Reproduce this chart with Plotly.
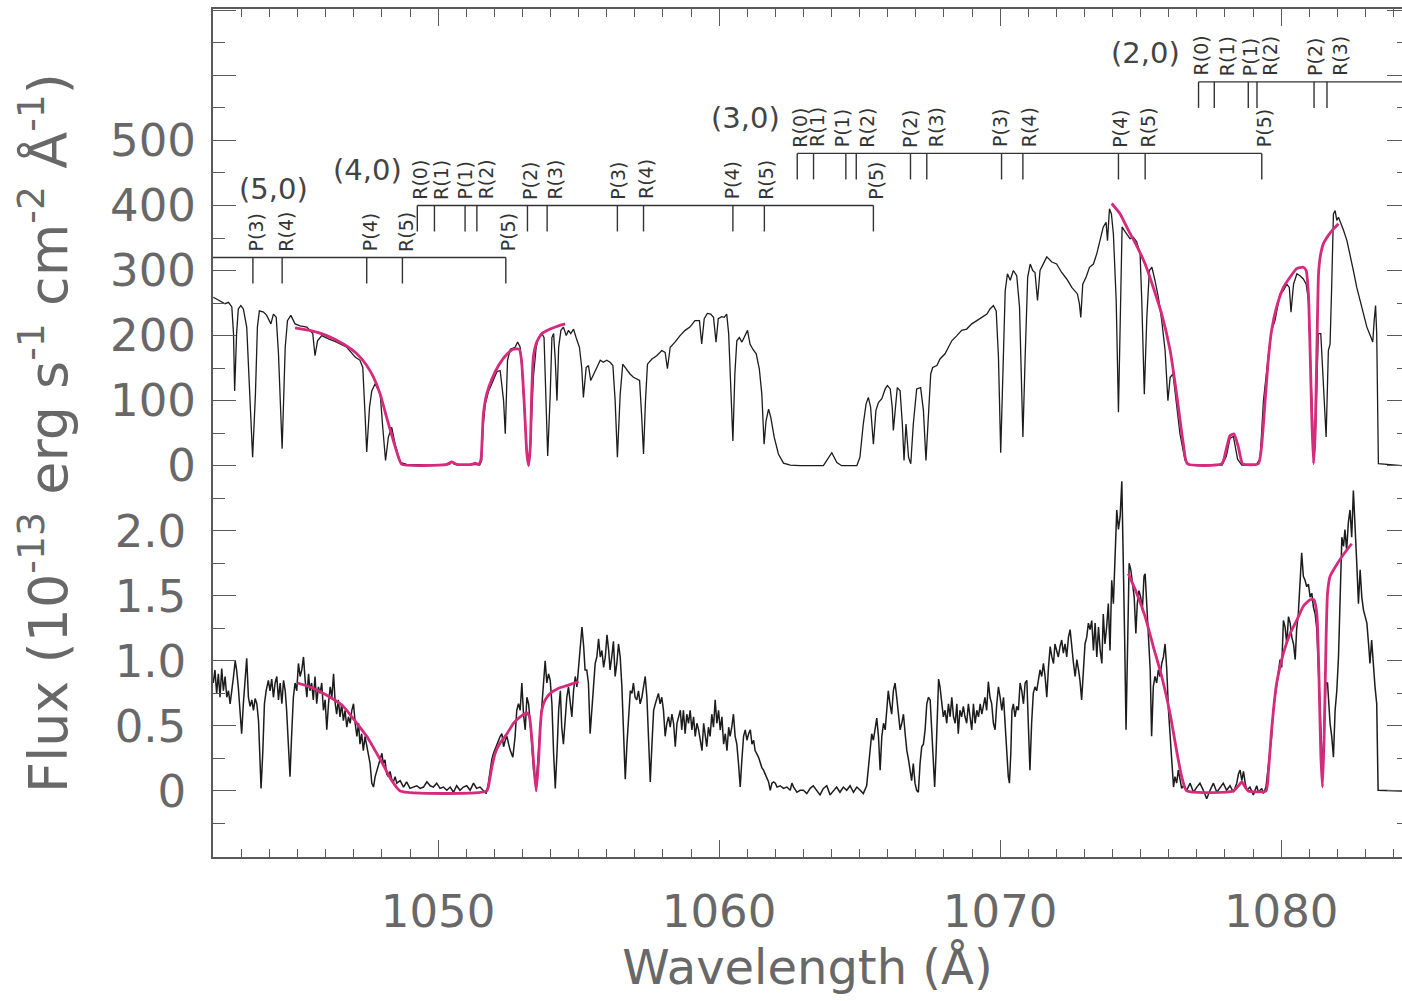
import plotly.graph_objects as go

# ---------------- data ----------------
# upper spectrum (flux in 1e-13 erg s-1 cm-2 A-1)
top_wl = [
1042.00, 1042.24, 1042.42, 1042.54, 1042.66, 1042.72, 1042.76, 1042.83, 1042.89, 1042.98,
1043.07, 1043.19, 1043.31, 1043.40, 1043.50, 1043.57, 1043.64, 1043.79, 1043.90, 1044.05,
1044.14, 1044.24, 1044.32, 1044.45, 1044.56, 1044.64, 1044.76, 1044.91, 1045.09, 1045.33,
1045.54, 1045.62, 1045.71, 1045.86, 1046.10, 1046.39, 1046.75, 1047.05, 1047.22, 1047.32,
1047.40, 1047.46, 1047.56, 1047.64, 1047.76, 1047.94, 1048.03, 1048.13, 1048.23, 1048.35,
1048.47, 1048.65, 1048.88, 1049.50, 1050.20, 1050.40, 1050.49, 1050.58, 1051.00, 1051.30,
1051.48, 1051.55, 1051.60, 1051.68, 1051.80, 1051.95, 1052.10, 1052.21, 1052.33, 1052.39,
1052.47, 1052.57, 1052.74, 1052.83, 1052.92, 1052.98, 1053.06, 1053.16, 1053.22, 1053.28,
1053.39, 1053.49, 1053.57, 1053.69, 1053.77, 1053.84, 1053.90, 1053.99, 1054.05, 1054.11,
1054.17, 1054.23, 1054.29, 1054.37, 1054.46, 1054.56, 1054.64, 1054.72, 1054.82, 1054.91,
1055.03, 1055.11, 1055.17, 1055.27, 1055.35, 1055.43, 1055.53, 1055.65, 1055.77, 1055.88,
1056.00, 1056.12, 1056.22, 1056.30, 1056.38, 1056.48, 1056.57, 1056.69, 1056.83, 1056.95,
1057.07, 1057.17, 1057.24, 1057.31, 1057.38, 1057.45, 1057.61, 1057.78, 1057.96, 1058.08,
1058.16, 1058.26, 1058.43, 1058.61, 1058.79, 1058.96, 1059.14, 1059.30, 1059.38, 1059.47,
1059.58, 1059.70, 1059.80, 1059.89, 1059.97, 1060.09, 1060.18, 1060.27, 1060.34, 1060.39,
1060.49, 1060.56, 1060.63, 1060.72, 1060.81, 1060.89, 1061.01, 1061.10, 1061.20, 1061.32,
1061.43, 1061.52, 1061.60, 1061.67, 1061.76, 1061.84, 1061.96, 1062.11, 1062.29, 1062.53,
1062.88, 1063.71, 1063.83, 1064.01, 1064.19, 1064.36, 1064.90, 1065.01, 1065.13, 1065.23,
1065.31, 1065.39, 1065.49, 1065.58, 1065.67, 1065.79, 1065.91, 1065.99, 1066.09, 1066.16,
1066.20, 1066.26, 1066.34, 1066.44, 1066.52, 1066.58, 1066.65, 1066.74, 1066.82, 1066.91,
1067.03, 1067.17, 1067.27, 1067.36, 1067.45, 1067.53, 1067.60, 1067.75, 1067.86, 1068.04,
1068.16, 1068.28, 1068.46, 1068.63, 1068.81, 1068.99, 1069.17, 1069.35, 1069.53, 1069.64,
1069.76, 1069.86, 1069.94, 1070.02, 1070.09, 1070.18, 1070.26, 1070.36, 1070.47, 1070.59,
1070.69, 1070.81, 1070.89, 1070.98, 1071.07, 1071.16, 1071.24, 1071.33, 1071.42, 1071.66,
1071.84, 1072.01, 1072.19, 1072.37, 1072.55, 1072.67, 1072.75, 1072.82, 1072.87, 1072.94,
1073.06, 1073.18, 1073.32, 1073.44, 1073.56, 1073.67, 1073.77, 1073.82, 1073.89, 1073.96,
1074.03, 1074.13, 1074.21, 1074.27, 1074.34, 1074.41, 1074.51, 1074.62, 1074.74, 1074.86,
1074.98, 1075.04, 1075.13, 1075.22, 1075.31, 1075.40, 1075.51, 1075.63, 1075.75, 1075.87,
1075.97, 1076.05, 1076.15, 1076.26, 1076.40, 1076.58, 1076.76, 1077.50, 1077.90, 1078.05,
1078.18, 1078.30, 1078.45, 1078.60, 1079.10, 1079.25, 1079.37, 1079.55, 1079.66, 1079.78,
1079.96, 1080.08, 1080.20, 1080.29, 1080.35, 1080.44, 1080.56, 1080.67, 1080.79, 1080.89,
1080.97, 1081.05, 1081.12, 1081.17, 1081.24, 1081.32, 1081.41, 1081.50, 1081.60, 1081.68,
1081.74, 1081.80, 1081.86, 1081.92, 1081.98, 1082.04, 1082.12, 1082.22, 1082.34, 1082.45,
1082.57, 1082.69, 1082.87, 1083.05, 1083.17, 1083.26, 1083.31, 1083.36, 1083.40, 1083.46,
1084.30]
top_flux = [
259, 254, 249, 251, 244, 203, 115, 203, 241, 246,
241, 213, 110, 13, 110, 213, 238, 236, 231, 218,
233, 228, 172, 26, 182, 223, 231, 218, 215, 213,
203, 169, 192, 200, 195, 190, 182, 167, 162, 151,
79, 21, 90, 115, 126, 110, 59, 8, 44, 59,
33, 5, 2, 1, 1, 2, 6, 2, 1, 2,
1, 8, 60, 95, 115, 130, 145, 146, 100, 49,
162, 179, 182, 190, 182, 151, 85, 18, 5, 28,
136, 182, 197, 203, 197, 110, 15, 110, 197, 203,
162, 100, 182, 208, 213, 200, 208, 203, 210, 197,
182, 151, 105, 151, 154, 131, 141, 151, 162, 159,
162, 159, 154, 100, 13, 110, 156, 149, 141, 136,
133, 131, 79, 18, 100, 156, 164, 169, 177, 174,
149, 182, 190, 200, 208, 213, 223, 223, 187, 226,
234, 233, 228, 190, 226, 229, 228, 233, 203, 146,
38, 141, 192, 197, 190, 197, 208, 187, 179, 172,
149, 110, 33, 69, 87, 74, 44, 18, 4, 1,
0, 0, 8, 20, 5, 0, 0, 13, 64, 95,
105, 90, 33, 85, 97, 103, 118, 123, 118, 90,
54, 85, 120, 115, 64, 8, 64, 13, 3, 64,
118, 120, 85, 8, 74, 141, 151, 154, 164, 172,
182, 192, 200, 208, 210, 218, 223, 228, 233, 241,
246, 238, 167, 20, 115, 269, 295, 285, 300, 292,
244, 44, 167, 290, 310, 300, 297, 254, 300, 321,
313, 310, 297, 287, 274, 267, 264, 249, 228, 279,
290, 305, 310, 326, 346, 367, 374, 346, 395, 387,
356, 254, 82, 228, 367, 362, 356, 349, 351, 344,
326, 254, 110, 228, 300, 305, 285, 259, 223, 177,
100, 136, 141, 100, 49, 8, 1, 1, 1, 15,
42, 45, 10, 1, 1, 10, 100, 172, 208, 223,
264, 269, 279, 274, 236, 279, 295, 292, 287, 279,
254, 151, 49, 8, 74, 203, 203, 126, 44, 177,
187, 279, 387, 392, 377, 382, 374, 362, 346, 326,
300, 274, 244, 213, 200, 190, 223, 246, 203, 3,
0]

# model fits on the upper spectrum
top_model_a_wl = [1044.91, 1045.44, 1046.04, 1046.63, 1047.11, 1047.46, 1047.70, 1047.94, 1048.17, 1048.41,
                  1048.59, 1048.71, 1050.31, 1050.49, 1050.66, 1051.20, 1051.32, 1051.44, 1051.52, 1051.61,
                  1051.73, 1051.91, 1052.15, 1052.44, 1052.68, 1052.89, 1052.97, 1053.06, 1053.16, 1053.22,
                  1053.28, 1053.33, 1053.39, 1053.51, 1053.69, 1053.99, 1054.28, 1054.52]
top_model_a_flux = [212, 208, 200, 187, 172, 154, 136, 110, 74, 38,
                    13, 2, 2, 6, 2, 2, 4, 2, 8, 79,
                    110, 133, 154, 171, 179, 179, 161, 100, 18, 0,
                    28, 110, 167, 190, 203, 210, 215, 218]
top_model_b_wl = [1073.97, 1074.27, 1074.56, 1074.86, 1075.16, 1075.45, 1075.75, 1076.05, 1076.28, 1076.52,
                  1076.66, 1077.89, 1078.06, 1078.18, 1078.32, 1078.48, 1078.63, 1079.19, 1079.31, 1079.43,
                  1079.55, 1079.66, 1079.84, 1080.08, 1080.32, 1080.55, 1080.79, 1080.89, 1080.97, 1081.03,
                  1081.09, 1081.15, 1081.21, 1081.27, 1081.33, 1081.39, 1081.50, 1081.68, 1081.86, 1082.04]
top_model_b_flux = [403, 387, 362, 338, 310, 274, 233, 177, 110, 33,
                    3, 3, 28, 46, 49, 28, 3, 3, 33, 100,
                    167, 208, 244, 274, 290, 303, 305, 300, 264, 177,
                    74, 3, 49, 177, 295, 321, 341, 354, 364, 372]

# lower spectrum (flux in 1e-13 erg s-1 cm-2 A-1)
bot_wl = [
1042.00, 1042.06, 1042.12, 1042.18, 1042.24, 1042.30, 1042.36, 1042.42, 1042.48, 1042.54,
1042.60, 1042.66, 1042.72, 1042.78, 1042.83, 1042.89, 1042.95, 1043.01, 1043.07, 1043.13,
1043.19, 1043.25, 1043.31, 1043.37, 1043.43, 1043.49, 1043.55, 1043.61, 1043.67, 1043.70,
1043.76, 1043.82, 1043.88, 1043.96, 1044.02, 1044.08, 1044.14, 1044.20, 1044.26, 1044.32,
1044.38, 1044.44, 1044.50, 1044.56, 1044.61, 1044.67, 1044.73, 1044.79, 1044.85, 1044.91,
1044.97, 1045.03, 1045.09, 1045.15, 1045.21, 1045.27, 1045.33, 1045.39, 1045.44, 1045.50,
1045.56, 1045.62, 1045.68, 1045.74, 1045.80, 1045.86, 1045.92, 1045.98, 1046.04, 1046.10,
1046.16, 1046.22, 1046.28, 1046.34, 1046.39, 1046.45, 1046.51, 1046.57, 1046.63, 1046.69,
1046.75, 1046.81, 1046.87, 1046.93, 1046.99, 1047.05, 1047.11, 1047.17, 1047.22, 1047.28,
1047.34, 1047.40, 1047.46, 1047.52, 1047.58, 1047.64, 1047.70, 1047.76, 1047.82, 1047.88,
1047.94, 1048.00, 1048.05, 1048.11, 1048.17, 1048.23, 1048.29, 1048.35, 1048.41, 1048.47,
1048.53, 1048.65, 1048.77, 1048.88, 1049.00, 1049.12, 1049.24, 1049.36, 1049.48, 1049.60,
1049.72, 1049.83, 1049.95, 1050.07, 1050.19, 1050.31, 1050.43, 1050.55, 1050.66, 1050.78,
1050.90, 1051.02, 1051.14, 1051.26, 1051.37, 1051.49, 1051.61, 1051.71, 1051.79, 1051.85,
1051.91, 1051.97, 1052.09, 1052.21, 1052.27, 1052.33, 1052.39, 1052.45, 1052.51, 1052.57,
1052.66, 1052.74, 1052.80, 1052.86, 1052.92, 1052.98, 1053.04, 1053.10, 1053.16, 1053.22,
1053.28, 1053.34, 1053.40, 1053.49, 1053.57, 1053.63, 1053.69, 1053.75, 1053.81, 1053.87,
1053.93, 1053.99, 1054.05, 1054.11, 1054.17, 1054.23, 1054.29, 1054.35, 1054.40, 1054.46,
1054.52, 1054.58, 1054.64, 1054.70, 1054.76, 1054.82, 1054.88, 1054.94, 1055.00, 1055.06,
1055.12, 1055.18, 1055.23, 1055.29, 1055.35, 1055.41, 1055.47, 1055.53, 1055.59, 1055.65,
1055.71, 1055.77, 1055.83, 1055.89, 1055.95, 1056.01, 1056.07, 1056.12, 1056.18, 1056.24,
1056.30, 1056.36, 1056.42, 1056.48, 1056.54, 1056.60, 1056.66, 1056.72, 1056.78, 1056.84,
1056.90, 1056.95, 1057.01, 1057.07, 1057.13, 1057.19, 1057.25, 1057.31, 1057.37, 1057.43,
1057.49, 1057.55, 1057.61, 1057.67, 1057.73, 1057.79, 1057.84, 1057.90, 1057.96, 1058.02,
1058.08, 1058.14, 1058.20, 1058.26, 1058.32, 1058.38, 1058.44, 1058.50, 1058.56, 1058.62,
1058.67, 1058.73, 1058.79, 1058.85, 1058.91, 1058.97, 1059.03, 1059.09, 1059.15, 1059.21,
1059.27, 1059.33, 1059.39, 1059.45, 1059.50, 1059.56, 1059.62, 1059.68, 1059.74, 1059.80,
1059.86, 1059.92, 1059.98, 1060.04, 1060.10, 1060.16, 1060.22, 1060.28, 1060.34, 1060.39,
1060.45, 1060.51, 1060.57, 1060.63, 1060.69, 1060.75, 1060.81, 1060.87, 1060.93, 1060.99,
1061.05, 1061.11, 1061.17, 1061.23, 1061.28, 1061.34, 1061.40, 1061.46, 1061.52, 1061.58,
1061.64, 1061.70, 1061.76, 1061.82, 1061.88, 1061.94, 1062.00, 1062.06, 1062.17, 1062.29,
1062.41, 1062.53, 1062.59, 1062.65, 1062.77, 1062.88, 1063.00, 1063.12, 1063.24, 1063.35,
1063.47, 1063.59, 1063.71, 1063.83, 1063.95, 1064.07, 1064.18, 1064.30, 1064.42, 1064.54,
1064.66, 1064.78, 1064.90, 1065.02, 1065.13, 1065.25, 1065.31, 1065.37, 1065.43, 1065.49,
1065.55, 1065.61, 1065.67, 1065.73, 1065.79, 1065.85, 1065.91, 1065.96, 1066.02, 1066.08,
1066.14, 1066.20, 1066.26, 1066.32, 1066.38, 1066.44, 1066.50, 1066.56, 1066.62, 1066.68,
1066.74, 1066.79, 1066.85, 1066.91, 1066.97, 1067.03, 1067.09, 1067.15, 1067.21, 1067.27,
1067.33, 1067.39, 1067.45, 1067.51, 1067.57, 1067.63, 1067.67, 1067.72, 1067.77, 1067.81,
1067.86, 1067.92, 1067.98, 1068.04, 1068.10, 1068.16, 1068.22, 1068.28, 1068.34, 1068.40,
1068.46, 1068.51, 1068.57, 1068.63, 1068.69, 1068.75, 1068.81, 1068.87, 1068.93, 1068.99,
1069.05, 1069.11, 1069.17, 1069.23, 1069.29, 1069.35, 1069.40, 1069.46, 1069.52, 1069.58,
1069.64, 1069.70, 1069.76, 1069.82, 1069.88, 1069.94, 1070.00, 1070.06, 1070.12, 1070.18,
1070.24, 1070.29, 1070.33, 1070.38, 1070.42, 1070.47, 1070.53, 1070.59, 1070.65, 1070.71,
1070.77, 1070.83, 1070.89, 1070.95, 1071.01, 1071.06, 1071.12, 1071.18, 1071.24, 1071.30,
1071.36, 1071.42, 1071.48, 1071.54, 1071.60, 1071.66, 1071.72, 1071.78, 1071.84, 1071.90,
1071.95, 1072.01, 1072.07, 1072.13, 1072.19, 1072.25, 1072.31, 1072.37, 1072.43, 1072.49,
1072.55, 1072.61, 1072.67, 1072.73, 1072.79, 1072.84, 1072.90, 1072.96, 1073.02, 1073.08,
1073.14, 1073.20, 1073.26, 1073.32, 1073.38, 1073.44, 1073.50, 1073.56, 1073.62, 1073.67,
1073.73, 1073.79, 1073.85, 1073.91, 1073.97, 1074.03, 1074.09, 1074.15, 1074.21, 1074.27,
1074.33, 1074.39, 1074.43, 1074.48, 1074.53, 1074.59, 1074.65, 1074.71, 1074.77, 1074.83,
1074.88, 1074.94, 1075.00, 1075.06, 1075.12, 1075.16, 1075.22, 1075.28, 1075.34, 1075.39,
1075.45, 1075.51, 1075.57, 1075.63, 1075.69, 1075.75, 1075.81, 1075.87, 1075.93, 1075.99,
1076.05, 1076.11, 1076.17, 1076.22, 1076.28, 1076.34, 1076.40, 1076.46, 1076.52, 1076.64,
1076.76, 1076.88, 1077.00, 1077.11, 1077.23, 1077.35, 1077.47, 1077.59, 1077.71, 1077.83,
1077.94, 1078.06, 1078.18, 1078.30, 1078.42, 1078.48, 1078.54, 1078.60, 1078.66, 1078.72,
1078.78, 1078.89, 1079.01, 1079.13, 1079.19, 1079.31, 1079.37, 1079.46, 1079.55, 1079.66,
1079.72, 1079.78, 1079.84, 1079.90, 1079.96, 1080.02, 1080.08, 1080.14, 1080.20, 1080.26,
1080.32, 1080.38, 1080.44, 1080.50, 1080.55, 1080.61, 1080.67, 1080.73, 1080.79, 1080.85,
1080.91, 1080.97, 1081.03, 1081.09, 1081.15, 1081.21, 1081.27, 1081.31, 1081.36, 1081.42,
1081.47, 1081.53, 1081.59, 1081.65, 1081.69, 1081.74, 1081.80, 1081.86, 1081.92, 1081.98,
1082.04, 1082.10, 1082.16, 1082.22, 1082.27, 1082.33, 1082.39, 1082.45, 1082.51, 1082.57,
1082.63, 1082.69, 1082.75, 1082.81, 1082.87, 1082.93, 1082.99, 1083.05, 1083.11, 1083.16,
1083.22, 1083.28, 1083.34, 1083.40, 1083.45, 1084.30]
bot_flux = [
0.83, 0.93, 0.75, 0.90, 0.72, 0.94, 0.77, 0.88, 0.72, 0.77,
0.67, 0.80, 0.88, 1.00, 0.93, 0.80, 0.59, 0.44, 0.67, 0.88,
1.02, 0.72, 0.65, 0.70, 0.62, 0.71, 0.67, 0.54, 0.16, 0.02,
0.29, 0.67, 0.77, 0.85, 0.77, 0.86, 0.72, 0.83, 0.88, 0.70,
0.83, 0.67, 0.85, 0.77, 0.62, 0.36, 0.11, 0.44, 0.72, 0.83,
0.77, 0.98, 0.88, 0.93, 1.03, 0.85, 0.72, 0.90, 0.77, 0.83,
0.70, 0.88, 0.67, 0.80, 0.75, 0.83, 0.62, 0.70, 0.47, 0.67,
0.80, 0.72, 0.90, 0.67, 0.59, 0.70, 0.57, 0.67, 0.54, 0.62,
0.49, 0.57, 0.52, 0.62, 0.67, 0.52, 0.42, 0.52, 0.36, 0.44,
0.31, 0.42, 0.34, 0.26, 0.21, 0.06, 0.03, 0.11, 0.16, 0.21,
0.26, 0.29, 0.21, 0.24, 0.13, 0.11, 0.15, 0.09, 0.07, 0.11,
0.06, 0.08, 0.03, 0.07, 0.02, 0.03, 0.04, 0.02, 0.03, 0.07,
0.04, 0.03, 0.06, 0.02, 0.03, 0.005, 0.03, -0.01, 0.04, 0.005,
0.03, 0.04, 0.005, 0.06, 0.02, 0.03, 0.005, -0.02, 0.06, 0.16,
0.24, 0.29, 0.36, 0.42, 0.44, 0.34, 0.39, 0.42, 0.36, 0.31,
0.26, 0.42, 0.62, 0.67, 0.62, 0.83, 0.59, 0.47, 0.72, 0.67,
0.52, 0.34, 0.16, 0.06, 0.29, 0.52, 0.70, 0.88, 1.00, 0.83,
0.90, 0.85, 0.67, 0.29, 0.02, 0.29, 0.62, 0.77, 0.49, 0.36,
0.52, 0.72, 0.80, 0.67, 0.57, 0.77, 0.88, 0.80, 0.98, 1.08,
1.26, 1.11, 0.93, 0.93, 0.83, 0.44, 0.67, 0.80, 0.98, 1.03,
1.17, 1.03, 1.08, 0.95, 1.03, 1.20, 1.08, 0.93, 1.03, 1.15,
0.88, 0.98, 1.13, 1.03, 0.80, 0.47, 0.09, 0.36, 0.62, 0.77,
0.75, 0.83, 0.72, 0.70, 0.77, 0.67, 0.72, 0.80, 0.88, 0.72,
0.42, 0.07, 0.36, 0.62, 0.67, 0.72, 0.75, 0.67, 0.72, 0.62,
0.42, 0.52, 0.57, 0.49, 0.59, 0.52, 0.34, 0.52, 0.57, 0.62,
0.47, 0.62, 0.44, 0.59, 0.52, 0.62, 0.47, 0.57, 0.42, 0.52,
0.47, 0.39, 0.31, 0.52, 0.44, 0.34, 0.49, 0.42, 0.59, 0.49,
0.70, 0.52, 0.62, 0.47, 0.57, 0.36, 0.44, 0.31, 0.49, 0.42,
0.49, 0.59, 0.42, 0.36, 0.21, 0.03, 0.24, 0.42, 0.47, 0.39,
0.44, 0.47, 0.36, 0.39, 0.31, 0.29, 0.26, 0.22, 0.18, 0.16,
0.13, 0.11, 0.07, 0.005, 0.06, 0.07, 0.06, 0.03, 0.04, 0.02,
0.03, 0.005, 0.06, 0.03, -0.01, 0.005, 0.005, -0.02, 0.02, 0.04,
0.005, -0.03, 0.02, 0.04, -0.03, 0.005, 0.03, -0.01, 0.03, 0.005,
0.04, -0.01, 0.03, 0.005, -0.02, 0.04, 0.18, 0.36, 0.44, 0.39,
0.49, 0.56, 0.42, 0.16, 0.42, 0.52, 0.47, 0.62, 0.77, 0.67,
0.59, 0.77, 0.83, 0.72, 0.57, 0.47, 0.52, 0.59, 0.44, 0.31,
0.24, 0.16, 0.08, 0.21, 0.06, 0.005, -0.01, 0.21, 0.34, 0.36,
0.47, 0.67, 0.72, 0.70, 0.42, 0.11, 0.03, 0.29, 0.67, 0.86,
0.80, 0.67, 0.57, 0.62, 0.52, 0.67, 0.57, 0.72, 0.57, 0.52,
0.67, 0.44, 0.62, 0.57, 0.65, 0.57, 0.52, 0.67, 0.57, 0.47,
0.67, 0.52, 0.62, 0.57, 0.67, 0.59, 0.65, 0.72, 0.62, 0.84,
0.72, 0.67, 0.52, 0.47, 0.67, 0.80, 0.72, 0.62, 0.72, 0.52,
0.26, 0.11, 0.06, 0.29, 0.62, 0.67, 0.57, 0.65, 0.62, 0.83,
0.77, 0.67, 0.83, 0.85, 0.47, 0.16, 0.52, 0.75, 0.80, 0.77,
0.85, 0.93, 0.88, 0.98, 0.88, 0.72, 0.95, 1.11, 1.03, 0.98,
1.13, 1.08, 1.03, 1.11, 1.16, 1.06, 1.13, 1.03, 1.18, 1.24,
1.08, 0.98, 0.88, 1.01, 0.93, 0.85, 0.70, 0.93, 1.13, 1.18,
1.29, 1.24, 1.31, 1.08, 1.29, 1.03, 1.26, 1.08, 0.98, 1.36,
1.13, 1.26, 1.44, 1.08, 1.62, 1.44, 1.83, 2.16, 2.01, 2.11,
2.38, 1.75, 1.18, 0.47, 1.18, 1.75, 1.70, 1.57, 1.49, 1.21,
1.44, 1.54, 1.49, 1.39, 1.65, 1.67, 1.44, 1.13, 0.93, 0.42,
0.80, 0.88, 0.83, 0.93, 0.88, 0.98, 1.03, 1.13, 0.93, 0.62,
0.42, 0.24, 0.03, 0.11, 0.06, 0.16, 0.08, 0.02, 0.04, 0.005,
0.06, -0.01, 0.03, 0.06, 0.005, -0.06, 0.005, 0.06, -0.01, 0.03,
0.06, 0.005, 0.04, -0.01, 0.06, 0.13, 0.16, 0.08, 0.15, 0.06,
0.005, 0.03, -0.03, 0.04, -0.01, 0.02, -0.02, 0.03, 0.21, 0.42,
0.62, 0.72, 0.80, 0.88, 1.01, 0.95, 1.31, 1.26, 1.13, 1.34,
1.29, 1.18, 1.13, 1.01, 1.24, 1.36, 1.62, 1.83, 1.65, 1.62,
1.57, 1.59, 1.49, 1.52, 1.41, 1.36, 1.24, 1.03, 0.67, 0.36,
0.16, 0.47, 0.83, 0.83, 0.67, 0.52, 0.42, 0.26, 0.62, 0.77,
1.03, 1.49, 1.95, 1.88, 2.01, 1.85, 2.06, 2.16, 1.95, 2.31,
2.08, 1.75, 1.44, 1.70, 1.49, 1.39, 1.34, 1.29, 1.13, 0.98,
1.16, 0.93, 0.80, 0.67, 0.005, 0.0]

# model fits on the lower spectrum
bot_model_a_wl = [1044.99, 1045.56, 1046.16, 1046.63, 1047.11, 1047.46, 1047.76, 1048.05, 1048.35, 1048.65,
                  1051.73, 1051.83, 1051.91, 1052.03, 1052.21, 1052.45, 1052.68, 1052.92, 1053.16, 1053.25,
                  1053.34, 1053.40, 1053.49, 1053.57, 1053.63, 1053.69, 1053.81, 1053.99, 1054.29, 1054.58,
                  1055.00]
bot_model_a_flux = [0.83, 0.79, 0.72, 0.65, 0.52, 0.42, 0.31, 0.20, 0.08, 0.0,
                    0.0, 0.08, 0.18, 0.29, 0.37, 0.44, 0.52, 0.57, 0.60, 0.57,
                    0.39, 0.21, 0.0, 0.21, 0.47, 0.62, 0.70, 0.75, 0.79, 0.81,
                    0.84]
bot_model_b_wl = [1074.56, 1074.86, 1075.16, 1075.45, 1075.75, 1076.05, 1076.28, 1076.46, 1076.64, 1078.30,
                  1078.48, 1078.60, 1078.72, 1078.83, 1079.46, 1079.55, 1079.66, 1079.84, 1080.08, 1080.32,
                  1080.55, 1080.79, 1081.03, 1081.17, 1081.27, 1081.34, 1081.41, 1081.47, 1081.53, 1081.60,
                  1081.65, 1081.74, 1081.92, 1082.16, 1082.33, 1082.51]
bot_model_b_flux = [1.67, 1.52, 1.34, 1.11, 0.88, 0.59, 0.31, 0.11, 0.0, 0.0,
                    0.04, 0.07, 0.03, 0.0, 0.0, 0.16, 0.47, 0.83, 1.06, 1.21,
                    1.31, 1.42, 1.47, 1.47, 1.36, 0.93, 0.29, 0.03, 0.42, 1.18,
                    1.52, 1.65, 1.72, 1.80, 1.85, 1.90]

# H2 Lyman band line identifications
band_names = ["(5,0)", "(4,0)", "(3,0)", "(2,0)"]
band_line_names = [
    ["P(3)", "R(4)", "P(4)", "R(5)", "P(5)"],
    ["R(0)", "R(1)", "P(1)", "R(2)", "P(2)", "R(3)", "P(3)", "R(4)", "P(4)", "R(5)", "P(5)"],
    ["R(0)", "R(1)", "P(1)", "R(2)", "P(2)", "R(3)", "P(3)", "R(4)", "P(4)", "R(5)", "P(5)"],
    ["R(0)", "R(1)", "P(1)", "R(2)", "P(2)", "R(3)"],
]
band_line_wl = [
    [1043.41, 1044.45, 1047.46, 1048.73, 1052.41],
    [1049.26, 1049.87, 1050.96, 1051.38, 1053.18, 1053.88, 1056.38, 1057.31, 1060.49, 1061.61, 1065.49],
    [1062.78, 1063.36, 1064.51, 1064.88, 1066.81, 1067.39, 1070.05, 1070.81, 1074.21, 1075.16, 1079.31],
    [1077.06, 1077.62, 1078.83, 1079.14, 1081.17, 1081.63],
]
band_level = [320, 400, 480, 590]          # upper-panel flux level of each marker bar
band_tick_depth = 40
band_label_pos = [(1044.13, 426), (1047.47, 454), (1060.93, 534), (1075.16, 634)]
band_extend = ["left", None, None, "right"]
label_nudge_px = [
    [3, 3, 3, 3, 2],
    [3, 7, 0, 10, 3, 8, 1, 3, 0, 2, 3],
    [3, 4, -3, 11, 0, 10, -1, 7, 2, 3, 3],
    [2, 13, 2, 13, 1, 13],
]

# axes
x_range = [1041.99, 1084.30]
bot_range = [-0.5075, 6.01]                  # lower panel flux axis (full plot height)
top_range = [bot_range[0] * 200 - 500, bot_range[1] * 200 - 500]  # upper panel shares the frame
x_tick_vals = [1050, 1060, 1070, 1080]
bot_tick_vals = [-0.5, 0, 0.5, 1.0, 1.5, 2.0, 2.5, 3.0, 3.5, 4.0, 4.5, 5.0, 5.5, 6.0]
bot_tick_text = ["", "0", "0.5", "1.0", "1.5", "2.0", "", "", "", "", "", "", "", ""]
top_tick_vals = [0, 100, 200, 300, 400, 500]
top_tick_text = ["0", "100", "200", "300", "400", "500"]

# ---------------- styling ----------------
BLACK = "#1c1c1c"
MAGENTA = "#d62a7c"
AXIS = "#5a5a5a"
LABEL_GRAY = "#686868"
ID_COLOR = "#333333"
FONT = "DejaVu Sans"

fig = go.Figure()

fig.add_trace(go.Scatter(x=top_wl, y=top_flux, yaxis="y3", mode="lines",
                         line=dict(color=BLACK, width=1.3), hoverinfo="skip"))
fig.add_trace(go.Scatter(x=bot_wl, y=bot_flux, yaxis="y", mode="lines",
                         line=dict(color=BLACK, width=1.5), hoverinfo="skip"))
for wl, fx, ax in [(top_model_a_wl, top_model_a_flux, "y3"), (top_model_b_wl, top_model_b_flux, "y3"),
                   (bot_model_a_wl, bot_model_a_flux, "y"), (bot_model_b_wl, bot_model_b_flux, "y")]:
    fig.add_trace(go.Scatter(x=wl, y=fx, yaxis=ax, mode="lines",
                             line=dict(color=MAGENTA, width=2.8, shape="spline", smoothing=0.5),
                             hoverinfo="skip"))
# right-hand tick axis (no data of its own)
fig.add_trace(go.Scatter(x=[None], y=[None], yaxis="y2", mode="lines", showlegend=False))

shapes = []
annotations = []
for b, name in enumerate(band_names):
    lvl = band_level[b]
    wls = band_line_wl[b]
    x0 = x_range[0] if band_extend[b] == "left" else min(wls)
    x1 = x_range[1] if band_extend[b] == "right" else max(wls)
    shapes.append(dict(type="line", xref="x", yref="y3", x0=x0, x1=x1, y0=lvl, y1=lvl,
                       line=dict(color=ID_COLOR, width=1.4)))
    for k, (lab, w) in enumerate(zip(band_line_names[b], wls)):
        shapes.append(dict(type="line", xref="x", yref="y3", x0=w, x1=w,
                           y0=lvl, y1=lvl - band_tick_depth,
                           line=dict(color=ID_COLOR, width=1.4)))
        annotations.append(dict(x=w, y=lvl, xref="x", yref="y3", text=lab, showarrow=False,
                                textangle=-90, xanchor="center", yanchor="bottom",
                                xshift=label_nudge_px[b][k], yshift=4,
                                font=dict(family=FONT, size=19, color=ID_COLOR)))
    bx, by = band_label_pos[b]
    annotations.append(dict(x=bx, y=by, xref="x", yref="y3", text=name, showarrow=False,
                            xanchor="center", yanchor="middle",
                            font=dict(family=FONT, size=29, color="#444444")))

tick_font = dict(family=FONT, size=45, color=LABEL_GRAY)

fig.update_layout(
    width=1402, height=1001,
    margin=dict(l=213, r=0, t=9, b=144),
    paper_bgcolor="white", plot_bgcolor="white",
    showlegend=False,
    shapes=shapes, annotations=annotations,
    xaxis=dict(range=x_range, tickmode="array", tickvals=x_tick_vals,
               ticks="inside", ticklen=17, tickwidth=1.4, tickcolor=AXIS,
               minor=dict(ticks="inside", ticklen=8, tickwidth=1.2, tickcolor=AXIS, dtick=1, tick0=1050),
               showline=True, linecolor=AXIS, linewidth=1.5, mirror="ticks",
               showgrid=False, zeroline=False,
               tickfont=tick_font, ticklabelstandoff=14,
               title=dict(text="Wavelength (Å)", standoff=14,
                          font=dict(family=FONT, size=48, color=LABEL_GRAY))),
    yaxis=dict(range=bot_range, tickmode="array", tickvals=bot_tick_vals, ticktext=bot_tick_text,
               ticks="inside", ticklen=23, tickwidth=1.4, tickcolor=AXIS,
               minor=dict(ticks="inside", ticklen=12, tickwidth=1.2, tickcolor=AXIS, dtick=0.25, tick0=0),
               showline=True, linecolor=AXIS, linewidth=1.5,
               showgrid=False, zeroline=False,
               tickfont=tick_font, ticklabelstandoff=16,
               title=dict(text="Flux (10<sup>-13</sup> erg s<sup>-1</sup> cm<sup>-2</sup> Å<sup>-1</sup>)",
                          standoff=30, font=dict(family=FONT, size=54, color=LABEL_GRAY))),
    yaxis2=dict(range=bot_range, overlaying="y", side="right", anchor="x",
                tickmode="array", tickvals=bot_tick_vals, showticklabels=False,
                ticks="inside", ticklen=15, tickwidth=1.4, tickcolor=AXIS,
                minor=dict(ticks="inside", ticklen=5, tickwidth=1.2, tickcolor=AXIS, dtick=0.25, tick0=0),
                showline=False, showgrid=False, zeroline=False),
    yaxis3=dict(range=top_range, overlaying="y", side="left", anchor="x",
                tickmode="array", tickvals=top_tick_vals, ticktext=top_tick_text,
                ticks="", showline=False, showgrid=False, zeroline=False,
                tickfont=tick_font, ticklabelstandoff=16),
)

assert len(top_wl) == len(top_flux)
assert len(bot_wl) == len(bot_flux)
assert len(top_model_a_wl) == len(top_model_a_flux)
assert len(top_model_b_wl) == len(top_model_b_flux)
assert len(bot_model_a_wl) == len(bot_model_a_flux)
assert len(bot_model_b_wl) == len(bot_model_b_flux)

fig.write_html("out.html")
